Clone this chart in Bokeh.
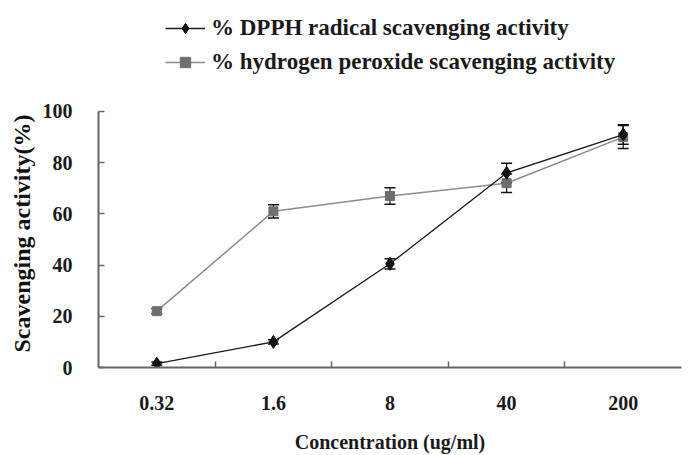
from bokeh.plotting import figure
from bokeh.models import (ColumnDataSource, FixedTicker, Whisker, Legend, LegendItem,
                          Range1d, Title)
from bokeh.embed import file_html
from bokeh.resources import INLINE

# Concentrations (ug/ml) shown as evenly spaced categories
concentrations = ["0.32", "1.6", "8", "40", "200"]

# % DPPH radical scavenging activity (mean, error)
dpph_mean = [1.5, 10, 40.5, 76, 91]
dpph_err = [0.6, 0.8, 2.0, 3.8, 3.8]

# % hydrogen peroxide scavenging activity (mean, error)
h2o2_mean = [22, 61, 67, 72, 90]
h2o2_err = [1.0, 2.6, 3.2, 3.6, 4.5]

y_ticks = [0, 20, 40, 60, 80, 100]

FONT = "Liberation Serif"
TXT = "#1a1a1a"
AXIS = "#666666"

xpos = list(range(len(concentrations)))

# The frame reaches up into the legend area; the y axis itself stops at 100.
p = figure(width=694, height=455, output_backend="svg", toolbar_location=None,
           x_range=Range1d(-0.5, len(concentrations) - 0.5), y_range=Range1d(0, 141.4),
           min_border_left=98, min_border_right=13, min_border_top=5,
           min_border_bottom=88)
p.outline_line_color = None
p.grid.grid_line_color = None
p.background_fill_color = "white"
p.border_fill_color = "white"

dsrc = ColumnDataSource(dict(x=xpos, y=dpph_mean,
                             lo=[m - e for m, e in zip(dpph_mean, dpph_err)],
                             hi=[m + e for m, e in zip(dpph_mean, dpph_err)]))
hsrc = ColumnDataSource(dict(x=xpos, y=h2o2_mean,
                             lo=[m - e for m, e in zip(h2o2_mean, h2o2_err)],
                             hi=[m + e for m, e in zip(h2o2_mean, h2o2_err)]))

# error bars
for src in (dsrc, hsrc):
    w = Whisker(source=src, base="x", lower="lo", upper="hi",
                line_color="#111111", line_width=1.2)
    for head in (w.upper_head, w.lower_head):
        head.size = 11
        head.line_color = "#111111"
        head.line_width = 1.5
    p.add_layout(w)

h_line = p.line("x", "y", source=hsrc, line_color="#8c8c8c", line_width=1.5)
h_mark = p.scatter("x", "y", source=hsrc, marker="square", size=9,
                   fill_color="#6e6e6e", line_color="#6e6e6e")
d_line = p.line("x", "y", source=dsrc, line_color="#1a1a1a", line_width=1.3)
d_mark = p.scatter("x", "y", source=dsrc, marker="diamond", size=13,
                   fill_color="#111111", line_color="#111111")

# axes
xa = p.xaxis[0]
xa.ticker = FixedTicker(ticks=xpos, minor_ticks=[0.5, 1.5, 2.5, 3.5])
xa.major_label_overrides = {i: c for i, c in enumerate(concentrations)}
xa.major_tick_line_color = None
xa.minor_tick_in = 6
xa.minor_tick_out = 0
xa.minor_tick_line_color = AXIS
xa.minor_tick_line_width = 1.5
xa.axis_line_color = AXIS
xa.axis_line_width = 2
xa.major_label_standoff = 22
xa.axis_label = "Concentration (ug/ml)"
xa.axis_label_standoff = 18
xa.axis_label_text_font = FONT
xa.axis_label_text_font_style = "bold"
xa.axis_label_text_color = TXT
xa.axis_label_text_font_size = "20px"

ya = p.yaxis[0]
ya.bounds = (0, 100)
ya.ticker = FixedTicker(ticks=y_ticks)
ya.major_tick_in = 6
ya.major_tick_out = 0
ya.minor_tick_line_color = None
ya.major_tick_line_color = AXIS
ya.major_tick_line_width = 1.5
ya.axis_line_color = AXIS
ya.axis_line_width = 2
ya.major_label_standoff = 26

for ax in (xa, ya):
    ax.major_label_text_font = FONT
    ax.major_label_text_font_style = "bold"
    ax.major_label_text_color = TXT
    ax.major_label_text_font_size = "20px"

# y axis title, placed along the 0-100 span rather than the whole frame
ytitle = Title(text="Scavenging activity(%)", align="left", offset=15,
               text_font=FONT, text_font_style="bold", text_font_size="24px",
               text_color="#111111", standoff=10)
p.add_layout(ytitle, "left")

legend = Legend(items=[
    LegendItem(label="% DPPH radical scavenging activity", renderers=[d_line, d_mark]),
    LegendItem(label="% hydrogen peroxide scavenging activity", renderers=[h_line, h_mark]),
], location=(67, 292))
legend.background_fill_alpha = 0
legend.border_line_color = None
legend.label_text_font = FONT
legend.label_text_font_style = "bold"
legend.label_text_font_size = "23px"
legend.label_text_color = TXT
legend.glyph_width = 40
legend.glyph_height = 26
legend.label_standoff = 6
legend.spacing = 8
legend.padding = 0
legend.margin = 0
p.add_layout(legend, "center")

open("out.html", "w").write(file_html(p, INLINE))
